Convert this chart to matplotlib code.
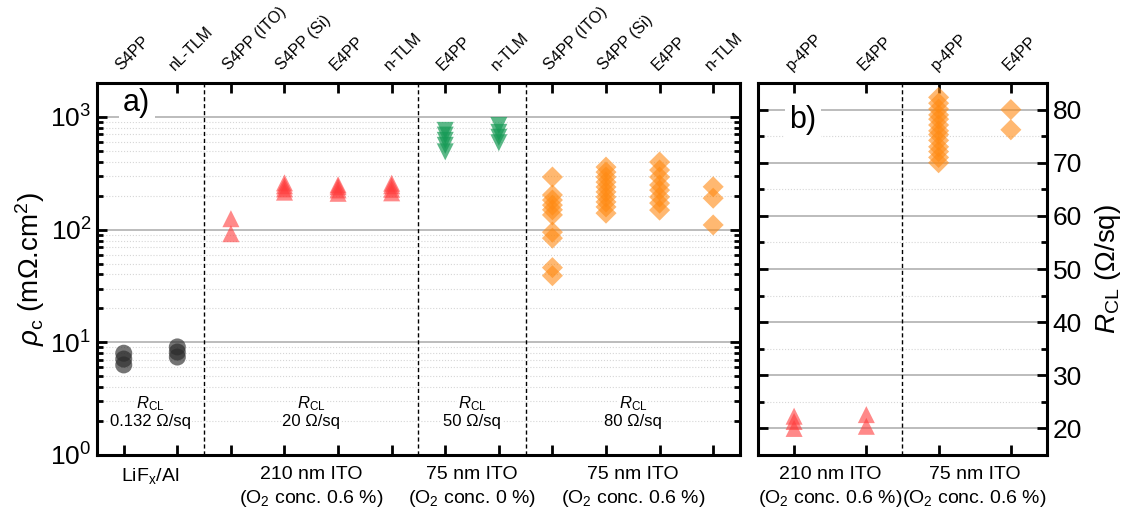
import numpy as np
import matplotlib
matplotlib.use("Agg")
import matplotlib.pyplot as plt
from matplotlib.ticker import LogLocator, MultipleLocator, NullFormatter

plt.rcParams["font.family"] = ["Liberation Sans", "DejaVu Sans"]
plt.rcParams["mathtext.fontset"] = "custom"
plt.rcParams["mathtext.rm"] = "Liberation Sans"
plt.rcParams["mathtext.it"] = "Liberation Sans:italic"

# ---- panel a: specific contact resistivity (mOhm.cm2) per method ----
a_labels = ["S4PP", "nL-TLM", "S4PP (ITO)", "S4PP (Si)", "E4PP", "n-TLM",
            "E4PP", "n-TLM", "S4PP (ITO)", "S4PP (Si)", "E4PP", "n-TLM"]
lif_s4pp = [6.3, 7.1, 8.0]
lif_ntlm = [7.4, 8.2, 9.1]
ito210_s4pp_ito = [92, 125]
ito210_s4pp_si = [215, 230, 245, 260]
ito210_e4pp = [210, 225, 240, 250]
ito210_ntlm = [212, 228, 245, 258]
ito75o0_e4pp = [490, 560, 620, 690, 760]
ito75o0_ntlm = [590, 660, 730, 840]
ito75_s4pp_ito = [39, 46, 84, 95, 135, 150, 165, 183, 203, 293]
ito75_s4pp_si = [140, 159, 176, 195, 216, 239, 264, 293, 324, 359]
ito75_e4pp = [149, 172, 195, 224, 249, 293, 338, 398]
ito75_ntlm = [110, 190, 240]

a_groups = ["LiF$_\\mathregular{x}$/Al",
            "210 nm ITO\n(O$_\\mathregular{2}$ conc. 0.6 %)",
            "75 nm ITO\n(O$_\\mathregular{2}$ conc. 0 %)",
            "75 nm ITO\n(O$_\\mathregular{2}$ conc. 0.6 %)"]
a_rcl = ["0.132 Ω/sq", "20 Ω/sq", "50 Ω/sq", "80 Ω/sq"]

# ---- panel b: contact layer sheet resistance (Ohm/sq) ----
b_labels = ["p-4PP", "E4PP", "p-4PP", "E4PP"]
b210_p4pp = [20.0, 21.3, 22.3]
b210_e4pp = [20.4, 22.6]
b75_p4pp = [70.0, 71.0, 72.1, 73.0, 74.2, 75.3, 76.0, 77.1, 78.2, 79.0,
            80.1, 81.2, 82.3]
b75_e4pp = [76.2, 80.0]
b_groups = ["210 nm ITO\n(O$_\\mathregular{2}$ conc. 0.6 %)",
            "75 nm ITO\n(O$_\\mathregular{2}$ conc. 0.6 %)"]

BLACK = "#2b2b2b"
RED = "#ff3b3b"
GREEN = "#159a55"
ORANGE = "#ff8a12"
GRID_MAJ = "#b0b0b0"
GRID_MIN = "#d6d6d6"

fig = plt.figure(figsize=(11.46, 5.14), dpi=100)
ax = fig.add_axes([0.0846, 0.1148, 0.5611, 0.7237])
bx = fig.add_axes([0.6614, 0.1148, 0.2522, 0.7237])


def scatter(axis, x, vals, marker, color, alpha, size):
    axis.scatter(np.full(len(vals), x), vals, marker=marker, s=size,
                 color=color, alpha=alpha, edgecolors="none", zorder=3)


def style(axis):
    for sp in axis.spines.values():
        sp.set_linewidth(2.2)
        sp.set_zorder(5)
    axis.tick_params(which="both", direction="in", top=True, bottom=True,
                     left=True, right=True, width=2)
    axis.tick_params(which="major", length=7)
    axis.tick_params(which="minor", length=4)
    axis.tick_params(axis="x", which="minor", top=False, bottom=False)
    axis.tick_params(axis="x", labeltop=True, labelbottom=False, pad=7,
                     labelsize=11.5)


# panel a
series_a = [(1, lif_s4pp, "o", BLACK, 0.65), (2, lif_ntlm, "o", BLACK, 0.65),
            (3, ito210_s4pp_ito, "^", RED, 0.6), (4, ito210_s4pp_si, "^", RED, 0.6),
            (5, ito210_e4pp, "^", RED, 0.6), (6, ito210_ntlm, "^", RED, 0.6),
            (7, ito75o0_e4pp, "v", GREEN, 0.7), (8, ito75o0_ntlm, "v", GREEN, 0.7),
            (9, ito75_s4pp_ito, "D", ORANGE, 0.6), (10, ito75_s4pp_si, "D", ORANGE, 0.6),
            (11, ito75_e4pp, "D", ORANGE, 0.6), (12, ito75_ntlm, "D", ORANGE, 0.6)]
for x, vals, mk, col, al in series_a:
    scatter(ax, x, vals, mk, col, al, 150 if mk != "D" else 115)

ax.set_yscale("log")
ax.set_ylim(1, 2000)
ax.set_xlim(0.5, 12.5)
ax.yaxis.set_major_locator(LogLocator(base=10, numticks=10))
ax.yaxis.set_minor_locator(LogLocator(base=10, subs=np.arange(2, 10), numticks=10))
ax.yaxis.set_minor_formatter(NullFormatter())
ax.grid(True, which="major", axis="y", color=GRID_MAJ, lw=1.2, zorder=0)
ax.grid(True, which="minor", axis="y", color=GRID_MIN, lw=0.8, ls=":", zorder=0)
ax.set_axisbelow(True)
ax.set_xticks(range(1, 13))
style(ax)
ax.set_xticklabels(a_labels, rotation=45, ha="left", rotation_mode="anchor")
ax.tick_params(axis="y", labelsize=19, pad=4)
for xv in (2.5, 6.5, 8.5):
    ax.axvline(xv, color="black", lw=1.0, ls=(0, (3, 2)), zorder=2)

ax.set_ylabel("$\\rho_\\mathregular{c}$ (mΩ.cm$^\\mathregular{2}$)", fontsize=20,
              labelpad=2)
ax.text(0.062, 0.946, "a)", transform=ax.transAxes, fontsize=22,
        ha="center", va="center",
        bbox=dict(facecolor="white", edgecolor="none", pad=3), zorder=4)

for cx, grp, rcl in zip((1.5, 4.5, 7.5, 10.5), a_groups, a_rcl):
    ax.annotate(grp, xy=(cx, 0), xycoords=("data", "axes fraction"),
                xytext=(0, -8), textcoords="offset points",
                ha="center", va="top", fontsize=14, linespacing=1.3)
    ax.text(cx, 2.0, rcl, ha="center", va="center", fontsize=12,
            bbox=dict(facecolor="white", edgecolor="none", pad=0.5), zorder=4)
    ax.text(cx, 2.85, "$\\mathit{R}_\\mathregular{CL}$", ha="center",
            va="center", fontsize=12,
            bbox=dict(facecolor="white", edgecolor="none", pad=0.5), zorder=4.5)

# panel b
series_b = [(1, b210_p4pp, "^", RED, 0.6), (2, b210_e4pp, "^", RED, 0.6),
            (3, b75_p4pp, "D", ORANGE, 0.6), (4, b75_e4pp, "D", ORANGE, 0.6)]
for x, vals, mk, col, al in series_b:
    scatter(bx, x, vals, mk, col, al, 150 if mk != "D" else 115)

bx.set_xlim(0.5, 4.5)
bx.set_ylim(15, 85)
bx.yaxis.set_major_locator(MultipleLocator(10))
bx.yaxis.set_minor_locator(MultipleLocator(5))
bx.grid(True, which="major", axis="y", color=GRID_MAJ, lw=1.2, zorder=0)
bx.grid(True, which="minor", axis="y", color=GRID_MIN, lw=0.8, ls=":", zorder=0)
bx.set_axisbelow(True)
bx.set_xticks(range(1, 5))
style(bx)
bx.set_xticklabels(b_labels, rotation=45, ha="left", rotation_mode="anchor")
bx.tick_params(axis="y", labelleft=False, labelright=True, labelsize=19, pad=4)
bx.yaxis.set_label_position("right")
bx.set_ylabel("$\\mathit{R}_\\mathregular{CL}$ (Ω/sq)", fontsize=20, labelpad=8)
bx.axvline(2.5, color="black", lw=1.0, ls=(0, (3, 2)), zorder=2)
bx.text(0.156, 0.90, "b)", transform=bx.transAxes, fontsize=22,
        ha="center", va="center",
        bbox=dict(facecolor="white", edgecolor="none", pad=3), zorder=4)

for cx, grp in zip((1.5, 3.5), b_groups):
    bx.annotate(grp, xy=(cx, 0), xycoords=("data", "axes fraction"),
                xytext=(0, -8), textcoords="offset points",
                ha="center", va="top", fontsize=14, linespacing=1.3)

fig.savefig("out.png", dpi=100, facecolor="white")
